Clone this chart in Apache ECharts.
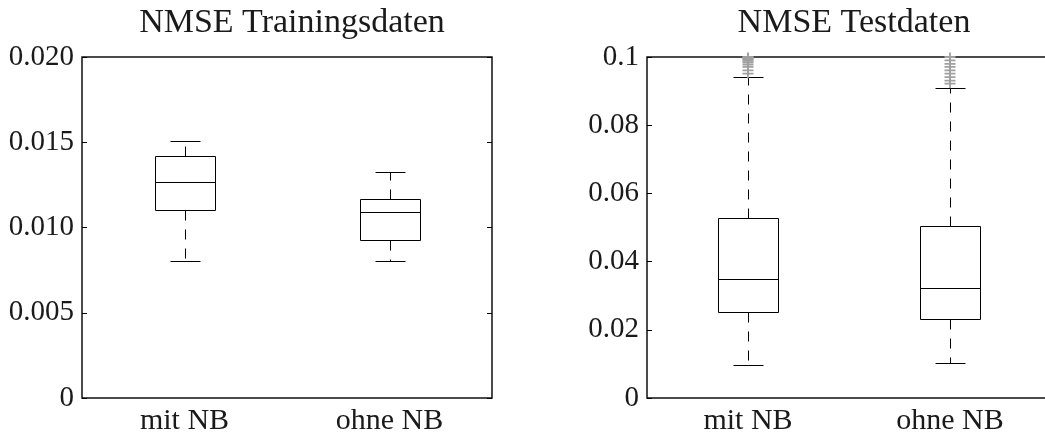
<!DOCTYPE html>
<html>
<head>
<meta charset="utf-8">
<script src="https://cdn.jsdelivr.net/npm/echarts@6/dist/echarts.min.js"></script>
<style>
  html, body { margin: 0; padding: 0; background: #fff; }
  #chart { width: 1045px; height: 432px; }
</style>
</head>
<body>
<div id="chart"></div>
<script>
// ---------- data ----------
const categories = ['mit NB', 'ohne NB'];
const titles = ['NMSE Trainingsdaten', 'NMSE Testdaten'];
// [min (lower whisker), q1, median, q3, max (upper whisker)]
const trainStats = [
  [0.00804, 0.01102, 0.01268, 0.01418, 0.01506],
  [0.00802, 0.00924, 0.01088, 0.01168, 0.01324]
];
const testStats = [
  [0.0097, 0.0252, 0.0348, 0.0528, 0.0940],
  [0.0102, 0.0231, 0.0324, 0.0503, 0.0909]
];
const testOutliersMit = [0.0951, 0.0961, 0.0971, 0.0978, 0.0984, 0.0989, 0.0993, 0.0996, 0.0998, 0.1];
const testOutliersOhne = [0.0922, 0.0931, 0.0941, 0.0951, 0.0961, 0.0971, 0.0980, 0.0990, 0.1];
const trainTickLabels = ['0', '0.005', '0.010', '0.015', '0.020'];
const testTickLabels = ['0', '0.02', '0.04', '0.06', '0.08', '0.1'];

// ---------- chart ----------
const FONT = 'Liberation Serif';
const chart = echarts.init(document.getElementById('chart'), null, { renderer: 'canvas' });

function boxRender(params, api) {
  const ci = api.value(0);
  const v = [1, 2, 3, 4, 5].map(i => api.value(i));
  const cx = Math.round(api.coord([ci, v[0]])[0]) + 0.5;
  const y = v.map(val => Math.round(api.coord([ci, val])[1]) + 0.5);
  const halfW = 30, capHalf = 15;
  const solid = { stroke: '#000', lineWidth: 1 };
  const dashed = { stroke: '#000', lineWidth: 1, lineDash: [10, 9] };
  return {
    type: 'group',
    children: [
      { type: 'line', shape: { x1: cx, y1: y[3], x2: cx, y2: y[4] }, style: dashed },
      { type: 'line', shape: { x1: cx, y1: y[1], x2: cx, y2: y[0] }, style: dashed },
      { type: 'line', shape: { x1: cx - capHalf, y1: y[4], x2: cx + capHalf, y2: y[4] }, style: solid },
      { type: 'line', shape: { x1: cx - capHalf, y1: y[0], x2: cx + capHalf, y2: y[0] }, style: solid },
      { type: 'rect', shape: { x: cx - halfW, y: y[3], width: 2 * halfW, height: y[1] - y[3] },
        style: { fill: '#fff', stroke: '#000', lineWidth: 1 } },
      { type: 'line', shape: { x1: cx - halfW, y1: y[2], x2: cx + halfW, y2: y[2] }, style: solid }
    ]
  };
}

const grids = [
  { left: 82, top: 57, width: 410, height: 341 },
  { left: 647, top: 57, width: 404, height: 341 }
];

function yAxesFor(gi, max, interval, labels, rightSide) {
  const base = {
    gridIndex: gi, type: 'value', min: 0, max: max, interval: interval,
    splitLine: { show: false },
    axisLine: { show: false },
    axisTick: { show: true, inside: true, length: 5, lineStyle: { color: '#000', width: 1 } }
  };
  const left = Object.assign({}, base, {
    position: 'left',
    axisLabel: {
      show: true, margin: 8, fontFamily: FONT, fontSize: 29, color: '#1a1a1a',
      formatter: (val, idx) => labels[idx]
    }
  });
  const out = [left];
  if (rightSide) {
    out.push(Object.assign({}, base, { position: 'right', axisLabel: { show: false } }));
  }
  return out;
}

const yAxes = [].concat(
  yAxesFor(0, 0.02, 0.005, trainTickLabels, true),
  yAxesFor(1, 0.1, 0.02, testTickLabels, true)
);

const xAxes = [0, 1].map(gi => ({
  gridIndex: gi, type: 'category', data: categories, boundaryGap: true,
  axisLine: { show: false }, axisTick: { show: false }, splitLine: { show: false },
  axisLabel: { margin: 8, fontFamily: FONT, fontSize: 30, color: '#1a1a1a' }
}));

const plusSymbol = 'path://M0,4.4H11V6.6H0Z M4.6,0H6.4V11H4.6Z';

const option = {
  backgroundColor: '#fff',
  animation: false,
  title: titles.map((t, i) => ({
    text: t,
    left: grids[i].left + grids[i].width / 2,
    top: 1,
    textAlign: 'center',
    textStyle: { fontFamily: FONT, fontSize: 34, fontWeight: 'normal', color: '#1a1a1a' }
  })),
  grid: grids.map(g => Object.assign({
    show: true, borderColor: '#111', borderWidth: 1.5, backgroundColor: '#fff',
    containLabel: false, outerBoundsMode: 'none'
  }, g)),
  xAxis: xAxes,
  yAxis: yAxes,
  series: [
    {
      type: 'custom', xAxisIndex: 0, yAxisIndex: 0, renderItem: boxRender,
      encode: { x: 0, y: [1, 2, 3, 4, 5] },
      data: trainStats.map((s, i) => [i].concat(s))
    },
    {
      type: 'custom', xAxisIndex: 1, yAxisIndex: 2, renderItem: boxRender,
      encode: { x: 0, y: [1, 2, 3, 4, 5] },
      data: testStats.map((s, i) => [i].concat(s))
    },
    {
      type: 'scatter', xAxisIndex: 1, yAxisIndex: 2, symbol: plusSymbol, symbolSize: [11, 9],
      itemStyle: { color: '#a0a0a0', opacity: 1 }, z: 5,
      data: testOutliersMit.map(v => [0, v]).concat(testOutliersOhne.map(v => [1, v]))
    }
  ]
};
chart.setOption(option);
</script>
</body>
</html>
